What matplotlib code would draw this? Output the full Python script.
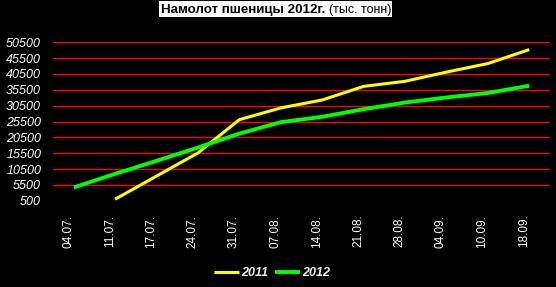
import matplotlib

matplotlib.use("Agg")
import matplotlib.pyplot as plt
from matplotlib.patches import Rectangle
from matplotlib.transforms import ScaledTranslation

# даты (недели уборки)
dates = ["04.07.", "11.07.", "17.07.", "24.07.", "31.07.", "07.08.",
         "14.08.", "21.08.", "28.08.", "04.09.", "10.09.", "18.09."]
# намолот, тыс. тонн (2011 начинается со второй даты)
harvest_2011 = [None, 1000, 8300, 15600, 26100, 29800,
                32300, 36600, 38200, 41100, 43800, 48200]
harvest_2012 = [4700, 9000, 13100, 17300, 21700, 25300,
                27000, 29400, 31500, 33100, 34500, 36800]
yticks = list(range(500, 50501, 5000))

plt.rcParams["font.family"] = ["Liberation Sans", "DejaVu Sans"]

W, H = 556, 287
fig = plt.figure(figsize=(W / 100, H / 100), dpi=100, facecolor="black")
ax = fig.add_axes([53 / W, 1 - 200.8 / H, 497 / W, (200.8 - 42.3) / H])
ax.set_facecolor("black")

x = list(range(len(dates)))
x11 = [i for i, v in zip(x, harvest_2011) if v is not None]
y11 = [v for v in harvest_2011 if v is not None]
ax.plot(x11, y11, color="#ffff00", lw=2.2, label="2011", solid_capstyle="butt")
ax.plot(x, harvest_2012, color="#00ff00", lw=2.8, label="2012", solid_capstyle="butt")

for v in yticks[1:]:
    ax.axhline(v, color="#ff0000", lw=1, zorder=0)

ax.set_xlim(-0.5, len(dates) - 0.5)
ax.set_ylim(500, 50500)
ax.set_yticks(yticks)
ax.set_yticklabels([str(v) for v in yticks], fontsize=9, fontstyle="italic", color="white")
ax.set_xticks(x)
ax.set_xticklabels(dates, rotation=90, fontsize=8.5, color="white", va="top")
ax.tick_params(length=0)
ax.tick_params(axis="y", pad=8.5)
ax.tick_params(axis="x", pad=10)
for lbl in ax.get_xticklabels():
    lbl.set_transform(lbl.get_transform() + ScaledTranslation(-4 / 72, 0, fig.dpi_scale_trans))
for s in ax.spines.values():
    s.set_visible(False)

# заголовок: белая плашка, жирная часть + обычная
fig.patches.append(Rectangle((159 / W, 1 - 17 / H), 233 / W, 16 / H,
                             transform=fig.transFigure, facecolor="white",
                             edgecolor="none"))
t1 = fig.text(161 / W, 1 - 13.5 / H, "Намолот пшеницы 2012г.", fontsize=9.6,
              weight="bold", color="black", va="baseline", ha="left")
fig.canvas.draw()
x_end = t1.get_window_extent().x1
fig.text((x_end + 4) / W, 1 - 13.5 / H, "(тыс. тонн)", fontsize=9,
         color="black", va="baseline", ha="left")

leg = fig.legend(loc="center", bbox_to_anchor=(272 / W, 1 - 273 / H), ncol=2,
                 frameon=False, handlelength=2.0, handletextpad=0.15,
                 columnspacing=0.55,
                 prop={"family": ["Liberation Sans Narrow", "Liberation Sans"],
                       "weight": "bold", "style": "italic", "size": 9})
for t in leg.get_texts():
    t.set_color("#f0f0f0")

fig.savefig("out.png", dpi=100, facecolor="black")
